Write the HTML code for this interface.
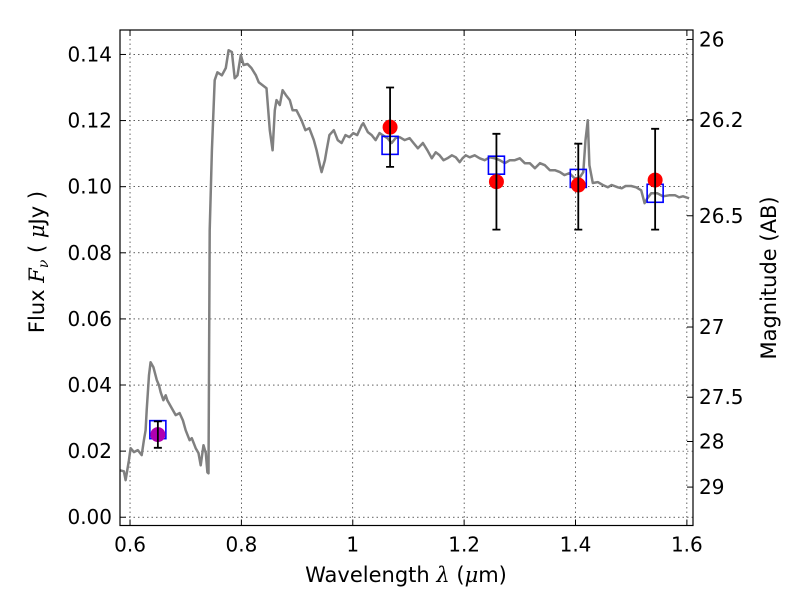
<!DOCTYPE html>
<html><head><meta charset="utf-8"><style>
body{margin:0;background:#fff;}
svg{display:block;font-family:"DejaVu Sans","Liberation Sans",sans-serif;}
</style></head><body>
<svg id="chart" width="800" height="600" viewBox="0 0 800 600">
<rect width="800" height="600" fill="#fff"/>
<g id="grid"></g>
<g id="series"></g>
<rect x="120" y="30" width="573" height="495.5" fill="none" stroke="#000" stroke-width="1.2"/>
<g id="axes"></g>
<text x="406" y="582" font-size="21" text-anchor="middle">Wavelength  <tspan font-style="italic" font-family="DejaVu Serif,serif">λ</tspan> (<tspan font-style="italic" font-family="DejaVu Serif,serif">μ</tspan>m)</text>
<text transform="translate(44,262) rotate(-90)" font-size="21" text-anchor="middle">Flux  <tspan font-style="italic" font-family="DejaVu Serif,serif">F</tspan><tspan font-style="italic" font-family="DejaVu Serif,serif" font-size="14" dy="4">ν</tspan><tspan dy="-4">  ( </tspan><tspan font-style="italic" font-family="DejaVu Serif,serif">μ</tspan>Jy )</text>
<text transform="translate(776,278) rotate(-90)" font-size="21" text-anchor="middle">Magnitude (AB)</text>
</svg>
<script>
const xTicks=[0.6,0.8,1.0,1.2,1.4,1.6];
const xTickLabels=["0.6","0.8","1","1.2","1.4","1.6"];
const yTicks=[0,0.02,0.04,0.06,0.08,0.10,0.12,0.14];
const yTickLabels=["0.00","0.02","0.04","0.06","0.08","0.10","0.12","0.14"];
const magTicks=[26,26.2,26.5,27,27.5,28,29];
const magTickLabels=["26","26.2","26.5","27","27.5","28","29"];
const specWave=[0.582,0.589,0.592,0.598,0.601,0.607,0.614,0.621,0.625,0.628,0.630,0.634,0.637,0.642,0.648,0.652,0.655,0.660,0.664,0.667,0.675,0.682,0.689,0.695,0.700,0.707,0.711,0.718,0.723,0.727,0.732,0.736,0.739,0.741,0.743,0.747,0.752,0.757,0.765,0.772,0.777,0.783,0.788,0.793,0.799,0.804,0.811,0.818,0.826,0.831,0.838,0.845,0.851,0.856,0.860,0.863,0.869,0.874,0.880,0.887,0.892,0.899,0.908,0.915,0.922,0.930,0.935,0.941,0.944,0.950,0.953,0.958,0.966,0.973,0.980,0.987,0.994,1.001,1.008,1.016,1.019,1.027,1.034,1.041,1.048,1.062,1.070,1.077,1.084,1.093,1.102,1.109,1.117,1.126,1.134,1.142,1.149,1.156,1.163,1.170,1.178,1.185,1.192,1.197,1.203,1.210,1.219,1.228,1.237,1.246,1.255,1.264,1.273,1.282,1.291,1.300,1.309,1.318,1.327,1.336,1.345,1.354,1.363,1.372,1.380,1.389,1.398,1.407,1.414,1.418,1.422,1.425,1.431,1.440,1.449,1.458,1.465,1.476,1.483,1.490,1.500,1.509,1.518,1.524,1.529,1.536,1.547,1.557,1.568,1.579,1.586,1.593,1.604];
const specFlux=[0.0142,0.0139,0.0112,0.0172,0.0209,0.0197,0.0203,0.0188,0.0233,0.0263,0.0324,0.0430,0.0469,0.0454,0.0415,0.0399,0.0378,0.0354,0.0369,0.0354,0.0330,0.0309,0.0315,0.0293,0.0263,0.0233,0.0239,0.0209,0.0194,0.0157,0.0218,0.0194,0.0136,0.0133,0.0868,0.1110,0.1322,0.1346,0.1337,0.1359,0.1413,0.1407,0.1328,0.1337,0.1398,0.1368,0.1371,0.1359,0.1337,0.1316,0.1307,0.1298,0.1171,0.1110,0.1231,0.1262,0.1247,0.1292,0.1277,0.1262,0.1231,0.1231,0.1201,0.1171,0.1177,0.1141,0.1110,0.1065,0.1044,0.1080,0.1110,0.1156,0.1171,0.1141,0.1132,0.1156,0.1150,0.1162,0.1156,0.1186,0.1192,0.1165,0.1156,0.1141,0.1162,0.1147,0.1132,0.1147,0.1150,0.1141,0.1147,0.1132,0.1116,0.1132,0.1110,0.1086,0.1104,0.1095,0.1080,0.1086,0.1095,0.1089,0.1074,0.1086,0.1095,0.1089,0.1095,0.1086,0.1080,0.1089,0.1086,0.1080,0.1071,0.1080,0.1080,0.1086,0.1071,0.1071,0.1056,0.1071,0.1065,0.1050,0.1050,0.1044,0.1035,0.1041,0.1026,0.1026,0.1044,0.1141,0.1201,0.1065,0.1011,0.1014,0.1005,0.0998,0.1005,0.0998,0.0995,0.1002,0.1002,0.0998,0.0989,0.0950,0.0965,0.0980,0.0980,0.0971,0.0974,0.0974,0.0968,0.0971,0.0965];
const obsWave=[0.650,1.067,1.258,1.405,1.543];
const obsFlux=[0.025,0.118,0.1015,0.1005,0.102];
const obsErrLo=[0.021,0.106,0.087,0.087,0.087];
const obsErrHi=[0.029,0.130,0.116,0.113,0.1175];
const modelFlux=[0.0265,0.1125,0.1065,0.1025,0.098];
const obsColors=["#b000b0","red","red","red","red"];

const NS="http://www.w3.org/2000/svg";
const X0=120,X1=693,Y0=30,Y1=525.5,xmin=0.582,xmax=1.611,ymin=-0.0025,ymax=0.1474;
function xs(v){return X0+(v-xmin)/(xmax-xmin)*(X1-X0);}
function ys(v){return Y1-(v-ymin)/(ymax-ymin)*(Y1-Y0);}
function magToFlux(m){return Math.pow(10,(23.9-m)/2.5);}
function mk(tag,attrs,parent){const e=document.createElementNS(NS,tag);for(const k in attrs)e.setAttribute(k,attrs[k]);parent.appendChild(e);return e;}
const grid=document.getElementById('grid'),axes=document.getElementById('axes'),series=document.getElementById('series');

xTicks.forEach((t,i)=>{
  const x=xs(t);
  const g=mk('line',{x1:x,x2:x,y1:Y0,y2:Y1,stroke:'#000','stroke-width':0.6,'stroke-dasharray':'1.5,3'},grid);
  
  
  mk('line',{x1:x,x2:x,y1:Y1,y2:Y1-6,stroke:'#000'},axes);
  mk('line',{x1:x,x2:x,y1:Y0,y2:Y0+6,stroke:'#000'},axes);
  const tx=mk('text',{x:x,y:Y1+26,'font-size':20,'text-anchor':'middle'},axes);
  tx.textContent=xTickLabels[i];
  
  
});
yTicks.forEach((t,i)=>{
  const y=ys(t);
  const g=mk('line',{x1:X0,x2:X1,y1:y,y2:y,stroke:'#000','stroke-width':0.6,'stroke-dasharray':'1.5,3'},grid);
  
  
  mk('line',{x1:X0,x2:X0+6,y1:y,y2:y,stroke:'#000'},axes);
  const tx=mk('text',{x:X0-8,y:y+7,'font-size':20,'text-anchor':'end'},axes);
  tx.textContent=yTickLabels[i];
  
  
});
magTicks.forEach((m,i)=>{
  const y=ys(magToFlux(m));
  mk('line',{x1:X1,x2:X1-6,y1:y,y2:y,stroke:'#000'},axes);
  const tx=mk('text',{x:X1+6,y:y+7,'font-size':20},axes);
  tx.textContent=magTickLabels[i];
  
  
});

const pts=specWave.map((w,i)=>xs(w).toFixed(1)+','+ys(specFlux[i]).toFixed(1)).join(' ');
const pl=mk('polyline',{points:pts,fill:'none',stroke:'#808080','stroke-width':2.5,'stroke-linejoin':'round'},series);



obsWave.forEach((w,i)=>{
  const x=xs(w);
  const bx=mk('rect',{x:x-8,y:ys(modelFlux[i])-9,width:16,height:18,fill:'none',stroke:'#0000ff','stroke-width':1.6},series);
  
  
  const c=mk('circle',{cx:x,cy:ys(obsFlux[i]),r:7.5,fill:obsColors[i]},series);
  
  
  const yl=ys(obsErrLo[i]),yh=ys(obsErrHi[i]);
  const e=mk('path',{d:`M${x},${yl}V${yh}M${x-4},${yl}H${x+4}M${x-4},${yh}H${x+4}`,stroke:'#000','stroke-width':1.8,fill:'none'},series);
  
  
});
</script>
</body></html>
